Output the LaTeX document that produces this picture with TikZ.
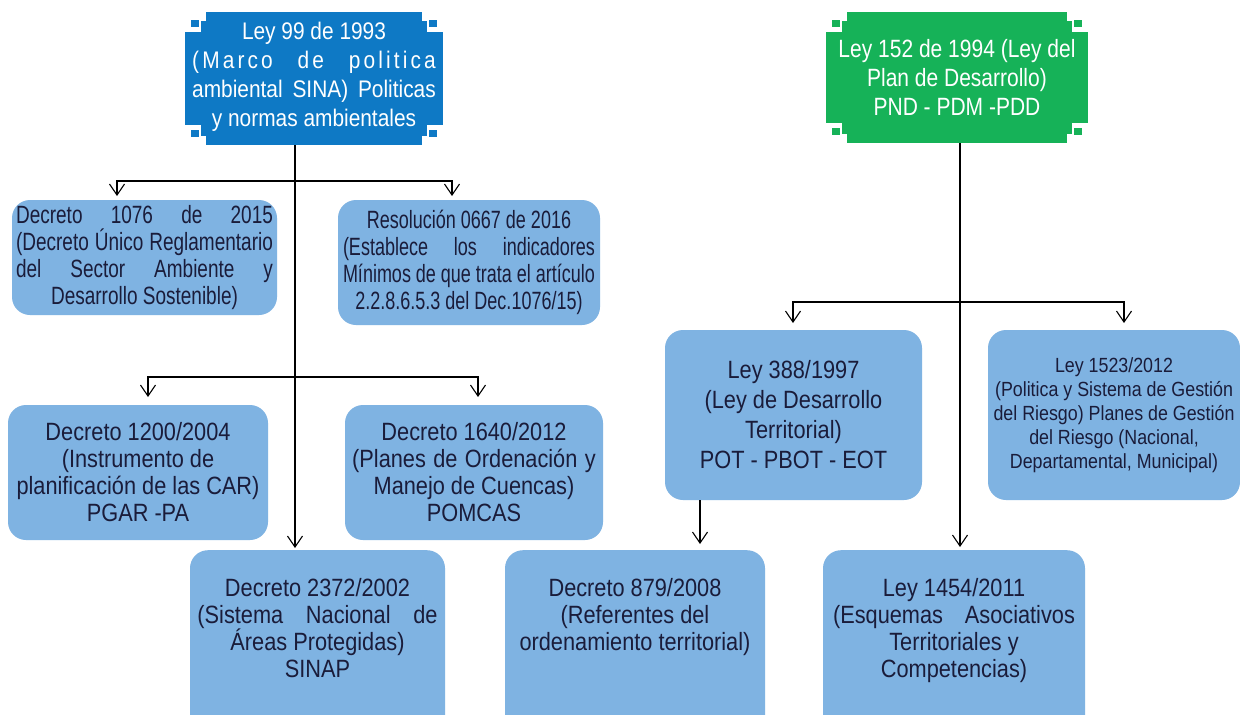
\documentclass[tikz,border=0pt]{standalone}
\usepackage{fontspec}
\usepackage{graphicx}
\setmainfont{Liberation Sans}
\usetikzlibrary{arrows.meta}
\definecolor{leyblue}{RGB}{14,121,197}
\definecolor{leygreen}{RGB}{22,178,88}
\definecolor{boxblue}{RGB}{127,179,226}
\definecolor{ink}{RGB}{26,28,58}
\newcommand\jline[1]{\makebox[\linewidth][s]{#1}}
\newcommand\boxtext[3]{\scalebox{#1}[1]{\parbox{#2pt}{\centering #3}}}
\newcommand\plaque[5]{%
\fill[#5] ({#1+21},#2) rectangle ({#3-21},#4);
\fill[#5] ({#1+16},{#2+9}) rectangle ({#3-16},{#4-9});
\fill[#5] (#1,{#2+20}) rectangle (#3,{#4-20});
\fill[#5] ({#1+6},{#2+8}) rectangle ({#1+14},{#2+15});
\fill[#5] ({#3-14},{#2+8}) rectangle ({#3-6},{#2+15});
\fill[#5] ({#1+6},{#4-15}) rectangle ({#1+14},{#4-8});
\fill[#5] ({#3-14},{#4-15}) rectangle ({#3-6},{#4-8});}
\begin{document}
\begin{tikzpicture}[x=1pt,y=-1pt,
  lbox/.style={fill=boxblue, rounded corners=18pt, text=ink, inner sep=0pt, font=\fontsize{25}{27}\selectfont},
  toptext/.style={text=white, inner sep=0pt, font=\fontsize{24}{29}\selectfont},
  arr/.style={-{Straight Barb[length=11pt,width=15pt]}, line width=1.1pt}]
\fill[white] (0,0) rectangle (1240,715);
\clip (0,0) rectangle (1240,715);
\useasboundingbox (0,0) rectangle (1240,715);

\plaque{185}{12}{443}{145}{leyblue}
\node[toptext, minimum width=258, minimum height=133] (ley99) at (314,78.5)
  {\boxtext{0.87}{280}{Ley 99 de 1993\\ \jline{\addfontfeature{LetterSpace=15}(Marco de politica}\\ \jline{ambiental SINA) Politicas}\\ y normas ambientales\rule[-8pt]{0pt}{8pt}}};
\plaque{826}{12}{1088}{143}{leygreen}
\node[toptext, minimum width=262, minimum height=131, font=\fontsize{25}{29}\selectfont] (ley152) at (957,77.5)
  {\boxtext{0.84}{298}{Ley 152 de 1994 (Ley del\\ Plan de Desarrollo)\\ PND - PDM -PDD}};

\node[lbox, minimum width=265, minimum height=115] (d1076) at (144.5,257.5)
  {\boxtext{0.76}{338}{\jline{Decreto 1076 de 2015}\\ \jline{(Decreto Único Reglamentario}\\ \jline{del Sector Ambiente y}\\ Desarrollo Sostenible)}};
\node[lbox, minimum width=262, minimum height=125] (r0667) at (469,262.5)
  {\boxtext{0.72}{350}{Resolución 0667 de 2016\\ \jline{(Establece los indicadores}\\ \jline{Mínimos de que trata el artículo}\\ 2.2.8.6.5.3 del Dec.1076/15)}};
\node[lbox, minimum width=260, minimum height=135] (d1200) at (138,472.5)
  {\boxtext{0.87}{290}{Decreto 1200/2004\\ (Instrumento de\\ planificación de las CAR)\\ PGAR -PA}};
\node[lbox, minimum width=258, minimum height=135] (d1640) at (474,472.5)
  {\boxtext{0.87}{280}{Decreto 1640/2012\\ \jline{(Planes de Ordenación y}\\ Manejo de Cuencas)\\ POMCAS}};
\node[lbox, minimum width=255, anchor=north] (d2372) at (317.5,550)
  {\boxtext{0.87}{276}{\rule{0pt}{46pt}Decreto 2372/2002\\ \jline{(Sistema Nacional de}\\ Áreas Protegidas)\\ SINAP\rule[-90pt]{0pt}{90pt}}};
\node[lbox, minimum width=260, anchor=north] (d879) at (635,550)
  {\boxtext{0.87}{287}{\rule{0pt}{46pt}Decreto 879/2008\\ (Referentes del\\ ordenamiento territorial)\rule[-110pt]{0pt}{110pt}}};
\node[lbox, minimum width=262, anchor=north] (ley1454) at (954,550)
  {\boxtext{0.87}{278}{\rule{0pt}{46pt}Ley 1454/2011\\ \jline{(Esquemas Asociativos}\\ Territoriales y\\ Competencias)\rule[-90pt]{0pt}{90pt}}};
\node[lbox, minimum width=257, minimum height=170, font=\fontsize{25}{30}\selectfont] (ley388) at (793.5,415)
  {\boxtext{0.87}{282}{Ley 388/1997\\ (Ley de Desarrollo\\ Territorial)\\ POT - PBOT - EOT}};
\node[lbox, minimum width=252, minimum height=170, font=\fontsize{20.5}{24}\selectfont] (ley1523) at (1114,415)
  {\boxtext{0.87}{285}{Ley 1523/2012\\ (Politica y Sistema de Gestión\\ del Riesgo) Planes de Gestión\\ del Riesgo (Nacional,\\ Departamental, Municipal)}};

\coordinate (k99) at (295,181);
\coordinate (k99b) at (295,377);
\coordinate (k152) at (960,302);
\coordinate (a1076) at (117,196);
\coordinate (a0667) at (452,196);
\coordinate (a1200) at (148,397);
\coordinate (a1640) at (478,397);
\coordinate (a388) at (793,323);
\coordinate (a1523) at (1124,323);
\coordinate (k388) at (700,500);

\draw[arr, shorten >=2pt] (k99 |- ley99.south) -- (k99 |- d2372.north);
\draw[arr] (k99) -| (a1076);
\draw[arr] (k99) -| (a0667);
\draw[arr] (k99b) -| (a1200);
\draw[arr] (k99b) -| (a1640);
\draw[arr, shorten >=3pt] (k152 |- ley152.south) -- (k152 |- ley1454.north);
\draw[arr] (k152) -| (a388);
\draw[arr] (k152) -| (a1523);
\draw[arr, shorten >=6pt] (k388 |- ley388.south) -- (k388 |- d879.north);
\end{tikzpicture}
\end{document}
